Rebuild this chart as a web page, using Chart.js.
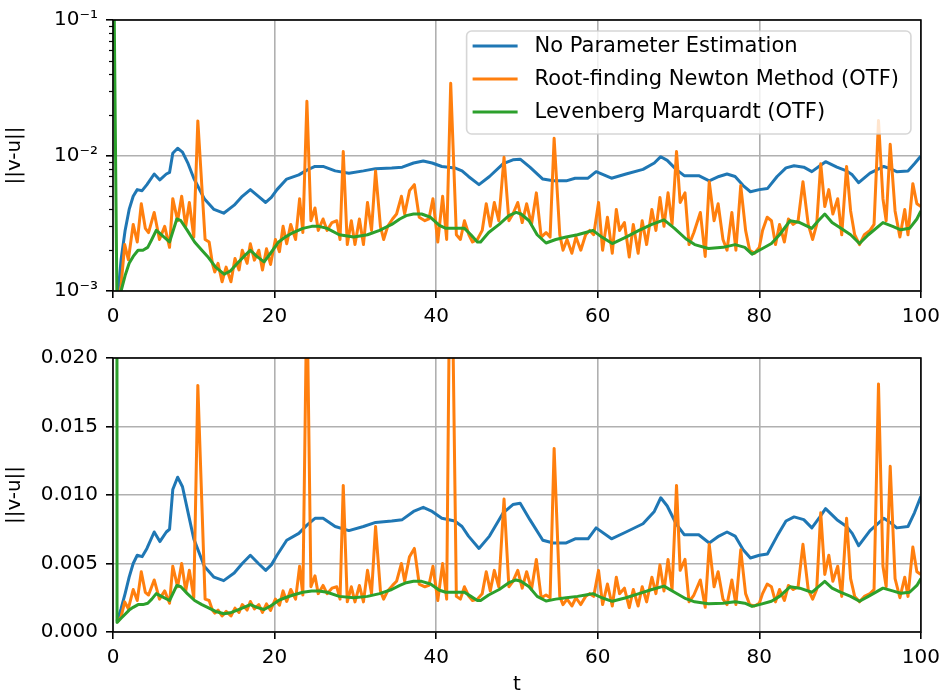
<!DOCTYPE html>
<html>
<head>
<meta charset="utf-8">
<script src="https://cdn.jsdelivr.net/npm/chart.js@4.4.1/dist/chart.umd.min.js"></script>
<style>
  body { margin: 0; background: #fff; }
  #wrap { position: relative; width: 947px; height: 698px; }
  canvas { position: absolute; left: 0; }
  #topChart { top: 0; }
  #bottomChart { top: 330px; }
</style>
</head>
<body>
<div id="wrap">
  <canvas id="topChart" width="947" height="330"></canvas>
  <canvas id="bottomChart" width="947" height="368"></canvas>
</div>
<script>
// error norm ||v-u|| over time for the three runs
const seriesNames = ['No Parameter Estimation', 'Root-finding Newton Method (OTF)', 'Levenberg Marquardt (OTF)'];
const seriesColors = ['#1f77b4', '#ff7f0e', '#2ca02c'];

const timeNoEst = [
  0.5, 1, 1.5, 2, 2.5, 3, 3.6, 4.2, 5.1, 5.8,
  6.6, 7.0, 7.4, 8.0, 8.6, 9.3, 10.0, 11.3, 12.5, 13.7,
  15.0, 16.0, 17.0, 18.0, 18.9, 19.6, 20.3, 21.5, 23.0, 24.0,
  25.0, 26.0, 27.5, 29.2, 31.0, 32.5, 34.5, 35.8, 37.2, 38.4,
  39.5, 40.7, 42.3, 43.2, 44.0, 45.3, 46.6, 48.3, 49.5, 50.4,
  51.6, 53.2, 54.5, 56.1, 57.2, 58.8, 59.8, 61.7, 63.5, 65.6,
  67.0, 67.8, 68.6, 69.7, 70.7, 71.6, 72.5, 73.8, 75.0, 76.0,
  77.0, 78.0, 78.9, 80.0, 81.0, 82.2, 83.3, 84.3, 85.5, 86.5,
  87.5, 88.2, 89.6, 90.8, 91.5, 92.3, 93.7, 95.4, 96.2, 97.0,
  98.4, 99.2, 100
];
const errNoEst = [
  0.0008, 0.0017, 0.0028, 0.0040, 0.0050, 0.0056, 0.0055, 0.0061, 0.0073, 0.0066,
  0.0073, 0.0075, 0.0104, 0.0113, 0.0106, 0.0087, 0.0068, 0.0048, 0.0040, 0.00375,
  0.0043, 0.0050, 0.0056, 0.0050, 0.0045, 0.0049, 0.0056, 0.0067, 0.0072, 0.0078,
  0.0083, 0.0083, 0.0077, 0.0074, 0.0077, 0.0080, 0.0081, 0.0082, 0.0088, 0.0091,
  0.0088, 0.0083, 0.0081, 0.0077, 0.0070, 0.0061, 0.0070, 0.0087, 0.0093, 0.0094,
  0.0082, 0.0067, 0.0065, 0.0065, 0.0068, 0.0068, 0.0076, 0.0068, 0.0073, 0.0079,
  0.0088, 0.0098, 0.0092, 0.0079, 0.0071, 0.0071, 0.0071, 0.0065, 0.0070, 0.0073,
  0.0070, 0.0060, 0.0054, 0.0056, 0.0057, 0.0070, 0.0081, 0.0084, 0.0082, 0.0076,
  0.0084, 0.0090, 0.0082, 0.0077, 0.0072, 0.0063, 0.0074, 0.0083, 0.0080, 0.0076,
  0.0077, 0.0087, 0.0099
];

const timeNewton = [
  0.5, 1.0, 1.45, 1.9, 2.5, 3.0, 3.5, 4.0, 4.4, 5.1,
  5.75, 6.4, 7.0, 7.4, 8.0, 8.5, 9.0, 9.45, 10.0, 10.5,
  11.4, 11.9, 12.3, 12.6, 13.0, 13.5, 14.0, 14.6, 15.1, 15.6,
  16.0, 16.6, 17.0, 17.5, 18.05, 18.5, 19.0, 19.5, 20.1, 20.6,
  21.05, 21.5, 22.0, 22.6, 23.1, 23.5, 24.0, 24.5, 25.0, 25.4,
  26.0, 26.5, 27.1, 27.7, 28.1, 28.5, 29.0, 29.5, 29.95, 30.5,
  31.0, 31.5, 32.0, 32.5, 33.1, 33.5, 34.0, 34.6, 35.1, 35.7,
  36.1, 36.7, 37.3, 37.9, 38.6, 39.1, 39.6, 40.2, 40.8, 41.3,
  41.8, 42.5, 43.0, 43.5, 44.05, 44.5, 45.1, 45.7, 46.2, 46.7,
  47.2, 47.75, 48.4, 49.0, 49.5, 50.1, 50.65, 51.2, 51.8, 52.4,
  53.0, 53.6, 54.1, 54.6, 55.3, 55.7, 56.2, 56.8, 57.3, 57.9,
  58.5, 59.0, 59.5, 60.1, 60.6, 61.2, 61.8, 62.3, 62.7, 63.3,
  63.9, 64.4, 65.0, 65.5, 66.05, 66.7, 67.2, 67.7, 68.2, 68.7,
  69.2, 69.75, 70.2, 70.8, 71.3, 71.9, 72.7, 73.3, 73.8, 74.4,
  74.9, 75.5, 76.0, 76.6, 77.1, 77.7, 78.3, 78.8, 79.4, 80.0,
  80.4, 80.97, 81.5, 82.0, 82.5, 83.1, 83.6, 84.2, 84.8, 85.4,
  86.05, 86.6, 87.1, 87.6, 88.1, 88.6, 89.1, 89.7, 90.2, 90.8,
  91.3, 91.8, 92.4, 93.0, 93.7, 94.2, 94.75, 95.3, 95.7, 96.2,
  96.8, 97.4, 98.0, 98.4, 99.0, 99.5, 100
];
const errNewton = [
  0.0007, 0.0011, 0.0022, 0.0017, 0.0031, 0.0023, 0.0044, 0.0029, 0.0027, 0.0038,
  0.0024, 0.0030, 0.0021, 0.0048, 0.0033, 0.0050, 0.0030, 0.0045, 0.0025, 0.0180,
  0.0024, 0.0023, 0.0016, 0.00138, 0.0016, 0.00117, 0.0015, 0.00117, 0.00174, 0.00143,
  0.0020, 0.0016, 0.00223, 0.00169, 0.0020, 0.00143, 0.00205, 0.00157, 0.0024, 0.00195,
  0.0030, 0.00223, 0.0031, 0.0024, 0.0048, 0.0027, 0.0251, 0.0033, 0.0041, 0.0028,
  0.0034, 0.0028, 0.0032, 0.0033, 0.0024, 0.0107, 0.0022, 0.0033, 0.0022, 0.0034,
  0.0022, 0.0045, 0.0028, 0.0077, 0.0030, 0.0024, 0.0030, 0.0034, 0.0037, 0.0050,
  0.0037, 0.0055, 0.0061, 0.0035, 0.0033, 0.0034, 0.0048, 0.0023, 0.0050, 0.0024,
  0.0341, 0.0026, 0.0024, 0.0033, 0.0026, 0.0023, 0.0024, 0.0028, 0.0044, 0.0030,
  0.0045, 0.0033, 0.0097, 0.0033, 0.0037, 0.0045, 0.0032, 0.0044, 0.0031, 0.0053,
  0.0025, 0.0027, 0.0025, 0.0134, 0.0026, 0.0020, 0.0024, 0.0019, 0.0025, 0.0020,
  0.0026, 0.0028, 0.0026, 0.0045, 0.0020, 0.0035, 0.0019, 0.0040, 0.0028, 0.0032,
  0.00178, 0.0031, 0.0019, 0.0033, 0.0022, 0.0040, 0.0028, 0.0049, 0.0030, 0.0053,
  0.0031, 0.0107, 0.0045, 0.0053, 0.0022, 0.0027, 0.0038, 0.0018, 0.0064, 0.0033,
  0.0044, 0.0024, 0.0020, 0.0038, 0.0020, 0.0060, 0.0028, 0.0020, 0.0019, 0.0021,
  0.0028, 0.0035, 0.0033, 0.0022, 0.0031, 0.0023, 0.0034, 0.0031, 0.0033, 0.0064,
  0.0031, 0.0024, 0.0031, 0.0087, 0.0042, 0.0056, 0.0037, 0.0048, 0.0026, 0.0083,
  0.0039, 0.0026, 0.0022, 0.0026, 0.0028, 0.0031, 0.0181, 0.0048, 0.0033, 0.0121,
  0.0039, 0.0025, 0.0040, 0.0026, 0.0062, 0.0044, 0.0042
];

const timeLM = [
  0, 0.5, 1, 1.5, 2, 2.5, 3.1, 3.7, 4.3, 4.8,
  5.35, 6.0, 7.0, 7.9, 8.4, 9.2, 10.1, 11.0, 11.7, 12.7,
  13.75, 14.5, 15.4, 16.2, 17.0, 17.8, 18.7, 19.5, 20.5, 21.3,
  22.3, 23.5, 24.6, 25.5, 26.5, 28.0, 29.8, 31.5, 33.0, 34.5,
  35.5, 36.3, 37.2, 38.2, 39.3, 40.4, 41.2, 41.9, 43.5, 44.3,
  45.1, 45.5, 46.5, 47.8, 49.0, 49.9, 50.5, 51.5, 52.5, 53.6,
  54.8, 56.1, 57.5, 58.5, 59.4, 60.5, 61.8, 63.5, 65.1, 66.7,
  68.2, 69.5, 70.9, 72.0, 73.7, 75.5, 77.0, 78.2, 79.1, 80.0,
  81.5, 82.5, 83.8, 85.0, 86.5, 87.3, 88.1, 89.0, 90.1, 91.3,
  92.4, 93.5, 95.3, 96.5, 97.5, 98.6, 99.5, 100
];
const errLM = [
  1.0, 0.0007, 0.0010, 0.0013, 0.0016, 0.0018, 0.0020, 0.0020, 0.0021, 0.0024,
  0.0028, 0.0026, 0.0023, 0.0034, 0.0033, 0.0028, 0.0023, 0.0020, 0.0018, 0.0015,
  0.00133, 0.0014, 0.0016, 0.0018, 0.0020, 0.0018, 0.00164, 0.0019, 0.0023, 0.0025,
  0.0027, 0.0029, 0.0030, 0.0030, 0.0029, 0.0026, 0.0025, 0.0026, 0.0028, 0.0031,
  0.0034, 0.0036, 0.0037, 0.0037, 0.0035, 0.00305, 0.0029, 0.0029, 0.0029, 0.0026,
  0.0023, 0.0023, 0.0027, 0.0031, 0.0036, 0.0038, 0.0037, 0.0033, 0.0026, 0.00226,
  0.0024, 0.0025, 0.0026, 0.0027, 0.0028, 0.0025, 0.00224, 0.0025, 0.0028, 0.0031,
  0.00335, 0.0029, 0.00243, 0.0022, 0.00206, 0.0021, 0.0022, 0.0021, 0.00187, 0.0020,
  0.00224, 0.0026, 0.0033, 0.0032, 0.0029, 0.0033, 0.0037, 0.0032, 0.0029, 0.0026,
  0.00224, 0.0026, 0.0032, 0.0030, 0.00283, 0.0029, 0.0034, 0.0039
];

const logTickValues = [0.001, 0.01, 0.1];
const logTickLabels = ['10\u207B\u00B3', '10\u207B\u00B2', '10\u207B\u00B9'];

const FONT = 'DejaVu Sans';

function points(ts, vs) {
  return ts.map((t, i) => ({ x: t, y: vs[i] }));
}

function makeDatasets() {
  const sets = [[timeNoEst, errNoEst], [timeNewton, errNewton], [timeLM, errLM]];
  return sets.map((s, i) => ({
    label: seriesNames[i],
    data: points(s[0], s[1]),
    borderColor: seriesColors[i],
    backgroundColor: seriesColors[i],
    borderWidth: 3,
    borderJoinStyle: 'round',
    pointRadius: 0,
    tension: 0,
    clip: 0,
    order: 3 - i // green on top, blue at the back
  }));
}

// black box around the plotting area
const axesFrame = {
  id: 'axesFrame',
  afterDatasetsDraw(chart) {
    const { ctx, chartArea: a } = chart;
    ctx.save();
    ctx.strokeStyle = '#000';
    ctx.lineWidth = 1.6;
    ctx.strokeRect(a.left, a.top, a.right - a.left, a.bottom - a.top);
    ctx.restore();
  }
};

// small unlabelled ticks between the decades
const minorTicks = {
  id: 'minorTicks',
  afterDraw(chart) {
    const { ctx, chartArea: a } = chart;
    const y = chart.scales.y;
    ctx.save();
    ctx.strokeStyle = '#000';
    ctx.lineWidth = 1.2;
    [0.001, 0.01].forEach(d => {
      for (let k = 2; k <= 9; k++) {
        const py = Math.round(y.getPixelForValue(k * d)) + 0.5;
        ctx.beginPath();
        ctx.moveTo(a.left - 4, py);
        ctx.lineTo(a.left, py);
        ctx.stroke();
      }
    });
    ctx.restore();
  }
};

function roundedRect(ctx, x, y, w, h, r) {
  ctx.beginPath();
  ctx.moveTo(x + r, y);
  ctx.arcTo(x + w, y, x + w, y + h, r);
  ctx.arcTo(x + w, y + h, x, y + h, r);
  ctx.arcTo(x, y + h, x, y, r);
  ctx.arcTo(x, y, x + w, y, r);
  ctx.closePath();
}

const legendBox = {
  id: 'legendBox',
  afterDraw(chart) {
    const { ctx, chartArea: a } = chart;
    ctx.save();
    ctx.font = '21px "' + FONT + '"';
    const textW = Math.max(...chart.data.datasets.map(d => ctx.measureText(d.label).width));
    const w = 6 + 45 + 17 + textW + 12;
    const h = 103;
    const x = a.right - 10 - w;
    const y = a.top + 11;
    roundedRect(ctx, x, y, w, h, 5);
    ctx.fillStyle = 'rgba(255,255,255,0.8)';
    ctx.fill();
    ctx.strokeStyle = 'rgba(204,204,204,0.8)';
    ctx.lineWidth = 1.6;
    ctx.stroke();
    chart.data.datasets.forEach((ds, i) => {
      const cy = y + 15 + i * 33;
      ctx.strokeStyle = ds.borderColor;
      ctx.lineWidth = 3;
      ctx.beginPath();
      ctx.moveTo(x + 6, cy);
      ctx.lineTo(x + 51, cy);
      ctx.stroke();
      ctx.fillStyle = '#000';
      ctx.textBaseline = 'middle';
      ctx.fillText(ds.label, x + 68, cy + 1);
    });
    ctx.restore();
  }
};

function xScale(height, showTitle) {
  return {
    type: 'linear',
    min: 0,
    max: 100,
    afterFit: s => { s.height = height; },
    ticks: { stepSize: 20, color: '#000', font: { family: FONT, size: 20 }, padding: 7, maxRotation: 0 },
    grid: { color: '#b0b0b0', lineWidth: 1.6, tickColor: '#000', tickWidth: 1.6, tickLength: 7 },
    border: { display: false },
    title: { display: showTitle, text: 't', color: '#000', font: { family: FONT, size: 20 }, padding: { top: 0, bottom: 1 } }
  };
}

function yTitle() {
  return { display: true, text: '||v-u||', color: '#000', font: { family: FONT, size: 20 }, padding: { top: 3, bottom: 0 } };
}

const common = {
  responsive: false,
  animation: false,
  devicePixelRatio: 1,
  plugins: { legend: { display: false }, tooltip: { enabled: false } }
};

// upper panel: log scale
new Chart(document.getElementById('topChart'), {
  type: 'line',
  data: { datasets: makeDatasets() },
  options: {
    ...common,
    layout: { padding: { top: 18, right: 22, left: 0, bottom: 0 } },
    scales: {
      x: xScale(39, false),
      y: {
        type: 'logarithmic',
        min: 0.001,
        max: 0.1,
        afterFit: s => { s.width = 113; },
        afterBuildTicks: s => { s.ticks = logTickValues.map(v => ({ value: v })); },
        ticks: {
          color: '#000',
          font: { family: FONT, size: 20 },
          padding: 8,
          callback: v => logTickLabels[logTickValues.findIndex(t => Math.abs(t - v) / t < 1e-6)]
        },
        grid: { color: '#b0b0b0', lineWidth: 1.6, tickColor: '#000', tickWidth: 1.6, tickLength: 7 },
        border: { display: false },
        title: yTitle()
      }
    }
  },
  plugins: [axesFrame, minorTicks, legendBox]
});

// lower panel: linear scale
new Chart(document.getElementById('bottomChart'), {
  type: 'line',
  data: { datasets: makeDatasets() },
  options: {
    ...common,
    layout: { padding: { top: 28, right: 22, left: 0, bottom: 0 } },
    scales: {
      x: xScale(66, true),
      y: {
        type: 'linear',
        min: 0,
        max: 0.02,
        afterFit: s => { s.width = 113; },
        ticks: {
          stepSize: 0.005,
          color: '#000',
          font: { family: FONT, size: 20 },
          padding: 8,
          callback: v => v.toFixed(3)
        },
        grid: { color: '#b0b0b0', lineWidth: 1.6, tickColor: '#000', tickWidth: 1.6, tickLength: 7 },
        border: { display: false },
        title: yTitle()
      }
    }
  },
  plugins: [axesFrame]
});
</script>
</body>
</html>
